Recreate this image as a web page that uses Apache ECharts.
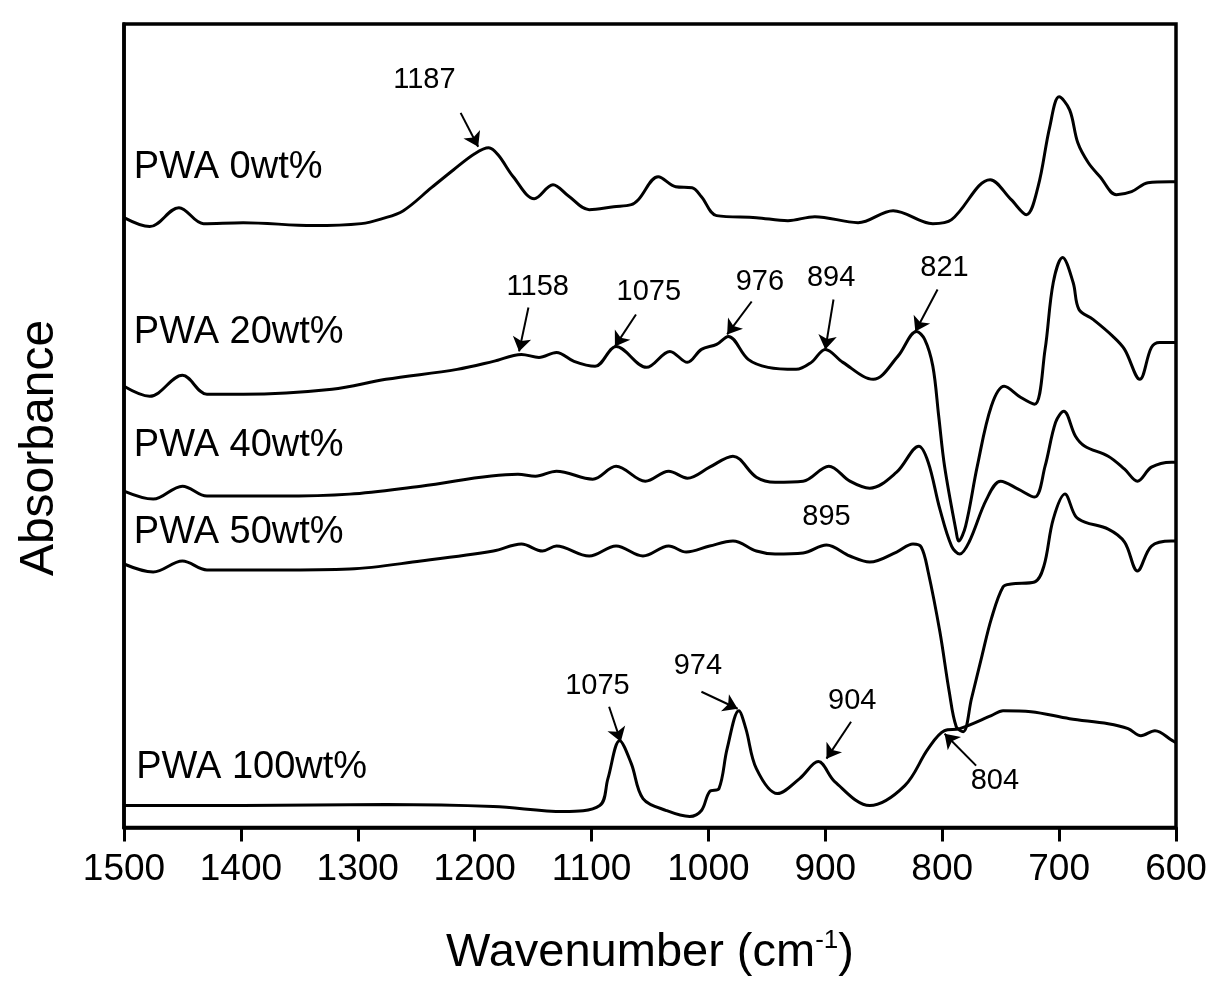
<!DOCTYPE html>
<html>
<head>
<meta charset="utf-8">
<script src="https://cdn.jsdelivr.net/npm/echarts@6/dist/echarts.min.js"></script>
<style>
  html, body { margin: 0; padding: 0; background: #fff; }
  #chart { width: 1214px; height: 982px; }
</style>
</head>
<body>
<div id="chart"></div>
<script>
// FTIR spectra, wavenumber in cm-1, absorbance in arbitrary offset units
const wn0 = [1500, 1478, 1453, 1432, 1398, 1338, 1297, 1279, 1261, 1237, 1218, 1200, 1188, 1180, 1167, 1149, 1133, 1120, 1102, 1081, 1066, 1060, 1043, 1028, 1014, 1006, 993, 959, 932, 909, 872, 842, 808, 792, 759, 741, 728, 718, 708, 700, 691, 684, 675, 665, 651, 638, 624, 605, 600];
const ab0 = [611, 602, 621, 605, 606, 603, 605, 610, 618, 641, 659, 675, 681, 674, 652, 630, 644, 633, 619, 622, 624, 629, 652, 642, 641, 632, 613, 611, 608, 612, 606, 618, 605, 609, 649, 629, 614, 642, 702, 732, 719, 686, 666, 652, 634, 637, 646, 647, 647];

const wn20 = [1500, 1478, 1450, 1429, 1398, 1322, 1276, 1215, 1184, 1160, 1145, 1130, 1115, 1097, 1079, 1053, 1033, 1018, 1006, 993, 983, 966, 949, 925, 912, 900, 885, 859, 838, 822, 815, 808, 803, 798, 788, 786, 780, 770, 758, 747, 733, 721, 712, 705, 697, 688, 683, 671, 654, 644, 631, 621, 614, 605, 600];
const ab20 = [442, 432, 453, 434, 434, 439, 449, 459, 467, 474, 471, 476, 467, 462, 482, 461, 477, 466, 479, 484, 492, 469, 461, 459, 466, 479, 466, 449, 472, 497, 489, 462, 412, 362, 296, 287, 302, 362, 422, 442, 431, 424, 479, 546, 571, 546, 519, 509, 492, 479, 449, 481, 486, 486, 486];

const wn40 = [1500, 1475, 1450, 1429, 1368, 1307, 1246, 1163, 1148, 1130, 1099, 1079, 1054, 1034, 1018, 999, 979, 959, 943, 919, 897, 879, 862, 839, 820, 812, 802, 792, 785, 777, 762, 750, 735, 721, 712, 703, 696, 686, 678, 658, 644, 633, 621, 604, 600];
const ab40 = [337, 329, 342, 332, 332, 334, 342, 354, 352, 357, 349, 362, 347, 357, 350, 361, 372, 351, 346, 347, 362, 347, 340, 356, 382, 366, 319, 282, 274, 286, 329, 347, 339, 331, 362, 406, 417, 392, 382, 372, 359, 347, 361, 366, 366];

const wn50 = [1500, 1475, 1450, 1429, 1368, 1307, 1246, 1184, 1160, 1142, 1130, 1102, 1079, 1056, 1034, 1019, 999, 979, 959, 943, 919, 899, 879, 862, 839, 825, 818, 812, 802, 794, 788, 782, 775, 766, 758, 748, 741, 721, 713, 705, 695, 686, 678, 658, 644, 633, 621, 604, 600];
const ab50 = [264, 256, 267, 258, 258, 259, 267, 277, 284, 277, 282, 272, 282, 272, 282, 276, 282, 287, 277, 274, 275, 283, 272, 266, 276, 284, 281, 256, 196, 136, 101, 96, 129, 172, 209, 241, 244, 246, 262, 309, 334, 312, 306, 299, 286, 257, 282, 287, 287];

const wn100 = [1500, 1398, 1276, 1184, 1124, 1093, 1086, 1076, 1066, 1056, 1036, 1016, 1006, 999, 991, 984, 974, 968, 959, 941, 922, 906, 892, 862, 832, 812, 798, 785, 758, 748, 724, 691, 658, 641, 630, 618, 603, 600];
const ab100 = [22, 22, 23, 21, 16, 22, 49, 87, 64, 29, 17, 11, 17, 36, 39, 79, 117, 99, 59, 34, 49, 66, 46, 22, 42, 79, 97, 99, 112, 117, 116, 109, 104, 99, 92, 97, 87, 85];

const seriesNames = ['PWA 0wt%', 'PWA 20wt%', 'PWA 40wt%', 'PWA 50wt%', 'PWA 100wt%'];
const seriesWn = [wn0, wn20, wn40, wn50, wn100];
const seriesAb = [ab0, ab20, ab40, ab50, ab100];
// where each sample name sits: [wavenumber, absorbance]
const nameAnchors = [[1492, 661], [1492, 496], [1492, 383], [1492, 296], [1490, 60]];

// peak annotations: text, text anchor, arrow start, arrow end (wavenumber, absorbance)
const peakTexts = ['1187', '1158', '1075', '976', '894', '821', '895', '1075', '974', '904', '804'];
const peakTextAt = [[1243, 749], [1146, 542], [1051, 536], [956, 547], [895, 551], [798, 561], [899, 311], [1095, 142], [1009, 162], [877, 127], [755, 47]];
const arrowFrom = [[1212, 716], [1154, 521], [1062, 514], [963, 527], [893, 529], [804, 539], null, [1085, 121], [1006, 136], [878, 106], [771, 62]];
const arrowTo = [[1197, 682], [1162, 477], [1080, 482], [984, 494], [900, 479], [823, 497], null, [1075, 86], [975, 119], [899, 69], [798, 94]];

const FONT = '"Liberation Sans", Arial, Helvetica, sans-serif';

const chart = echarts.init(document.getElementById('chart'));

const series = seriesNames.map((name, i) => ({
  name: name,
  type: 'line',
  data: seriesWn[i].map((w, k) => [w, seriesAb[i][k]]),
  showSymbol: false,
  smooth: 0.35,
  lineStyle: { color: '#000', width: 3 },
  z: 3,
  markPoint: {
    symbol: 'circle',
    symbolSize: 1,
    itemStyle: { color: 'rgba(0,0,0,0)' },
    silent: true,
    data: [{
      coord: nameAnchors[i],
      label: {
        show: true,
        position: 'right',
        distance: 0,
        formatter: name,
        color: '#000',
        fontFamily: FONT,
        fontSize: 38
      }
    }]
  }
}));

// annotation series: peak numbers and arrows
series.push({
  type: 'line',
  data: [],
  silent: true,
  markPoint: {
    symbol: 'circle',
    symbolSize: 1,
    itemStyle: { color: 'rgba(0,0,0,0)' },
    data: peakTexts.map((t, i) => ({
      coord: peakTextAt[i],
      label: {
        show: true,
        position: 'inside',
        formatter: t,
        color: '#000',
        fontFamily: FONT,
        fontSize: 29
      }
    }))
  },
  markLine: {
    silent: true,
    symbol: ['none', 'arrow'],
    symbolSize: 14,
    label: { show: false },
    lineStyle: { color: '#000', width: 2, type: 'solid' },
    data: arrowFrom.map((a, i) => a ? [{ coord: a }, { coord: arrowTo[i] }] : null).filter(Boolean)
  }
});

chart.setOption({
  animation: false,
  backgroundColor: '#fff',
  grid: {
    left: 124, right: 38, top: 24, bottom: 153,
    show: true, borderColor: '#000', borderWidth: 3.5
  },
  xAxis: {
    type: 'value',
    inverse: true,
    min: 600,
    max: 1500,
    interval: 100,
    name: 'Wavenumber (cm{sup|-1})',
    nameLocation: 'middle',
    nameGap: 100,
    nameTextStyle: {
      color: '#000', fontFamily: FONT, fontSize: 47,
      rich: { sup: { fontSize: 26, color: '#000', fontFamily: FONT, padding: [0, 0, 26, 0] } }
    },
    axisLine: { show: true, lineStyle: { color: '#000', width: 3.5 } },
    axisTick: { show: true, length: 14, lineStyle: { color: '#000', width: 3 } },
    axisLabel: {
      color: '#000', fontFamily: FONT, fontSize: 37, margin: 24,
      showMinLabel: true, showMaxLabel: true,
      formatter: v => String(v)
    },
    splitLine: { show: false }
  },
  yAxis: {
    type: 'value',
    min: 0,
    max: 805,
    axisLine: { show: true, lineStyle: { color: '#000', width: 3.5 } },
    axisTick: { show: false },
    axisLabel: { show: false },
    splitLine: { show: false }
  },
  graphic: [{
    type: 'text',
    x: 40,
    y: 448,
    rotation: Math.PI / 2,
    style: {
      text: 'Absorbance',
      fill: '#000',
      font: '48px ' + FONT,
      align: 'center',
      verticalAlign: 'middle'
    }
  }],
  series: series
});
</script>
</body>
</html>
